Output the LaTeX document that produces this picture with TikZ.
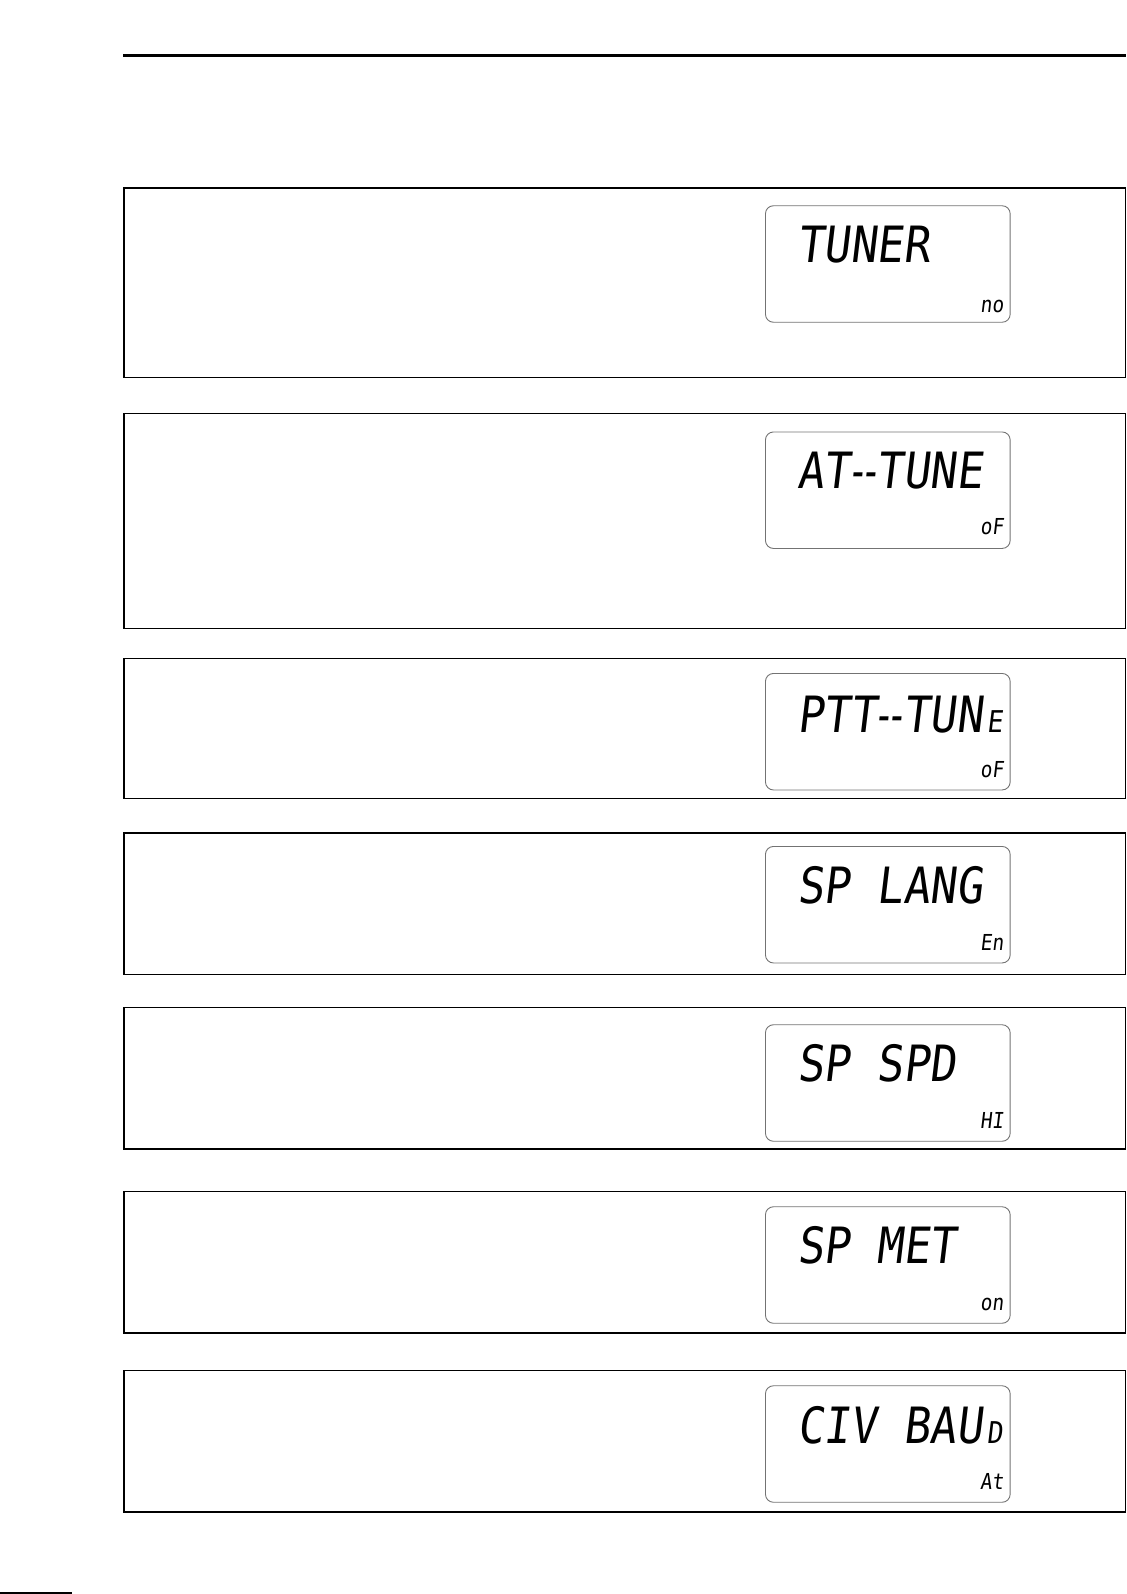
\documentclass[tikz,border=0pt]{standalone}
\usepackage{fontspec}
\newfontfamily\lcdfont{DejaVu Sans Mono}[FakeSlant=0.12,FakeStretch=0.88]
\usetikzlibrary{calc}
\tikzset{
  panel/.style={draw=black, line width=1.3pt, rectangle, inner sep=0pt, minimum width=1001.4pt, anchor=north west},
  lcd/.style={draw=black!55, line width=0.9pt, rounded corners=8pt, inner sep=0pt,
    minimum width=244.7pt, minimum height=116.5pt, anchor=north west},
  lcdmain/.style={font=\lcdfont\fontsize{50}{50}\selectfont, inner sep=0pt, anchor=base west, text depth=0pt},
  lcdsmall/.style={font=\lcdfont\fontsize{22}{22}\selectfont, inner sep=0pt, anchor=base east, text depth=0pt},
  rulebar/.style={fill=black, draw=none},
}
\newcommand\lcdsub[1]{\kern4pt{\fontsize{30}{30}\selectfont #1}}
\newcommand\lcddd{\makebox[13.2pt][c]{\scalebox{0.8}[1]{-}}\makebox[13.2pt][c]{\scalebox{0.8}[1]{-}}}
\begin{document}
\begin{tikzpicture}[x=1pt,y=-1pt]
\useasboundingbox (0,0) rectangle (1126,1594);
% header rule and footer bar
\fill[rulebar] (123,54.5) rectangle (1126,57.5);
\fill[rulebar] (0,1592) rectangle (72,1594);
% panels
\node[panel, minimum height=189.4pt] (p1) at (123.3,187.3) {};
\node[panel, minimum height=215.4pt] (p2) at (123.3,412.6) {};
\node[panel, minimum height=140.3pt] (p3) at (123.3,657.5) {};
\node[panel, minimum height=141.3pt] (p4) at (123.3,832.3) {};
\node[panel, minimum height=141.3pt] (p5) at (123.3,1007.1) {};
\node[panel, minimum height=141.3pt] (p6) at (123.3,1191.0) {};
\node[panel, minimum height=141.3pt] (p7) at (123.3,1369.9) {};
% LCD windows
\node[lcd] (l1) at (765,205.3) {};
\node[lcd] (l2) at (765,431.5) {};
\node[lcd] (l3) at (765,673.0) {};
\node[lcd] (l4) at (765,846.0) {};
\node[lcd] (l5) at (765,1024.3) {};
\node[lcd] (l6) at (765,1206.3) {};
\node[lcd] (l7) at (765,1385.3) {};
% main LCD text
\node[lcdmain] (m1) at ($(l1.north west)+(32,57)$) {TUNER};
\node[lcdmain] (m2) at ($(l2.north west)+(32,57)$) {AT\lcddd TUNE};
\node[lcdmain] (m3) at ($(l3.north west)+(32,59)$) {PTT\lcddd TUN\lcdsub{E}};
\node[lcdmain] (m4) at ($(l4.north west)+(32,57)$) {SP LANG};
\node[lcdmain] (m5) at ($(l5.north west)+(32,57)$) {SP SPD};
\node[lcdmain] (m6) at ($(l6.north west)+(32,57)$) {SP MET};
\node[lcdmain] (m7) at ($(l7.north west)+(32,58)$) {CIV BAU\lcdsub{D}};
% small LCD text
\node[lcdsmall] (s1) at ($(l1.south east)+(-7,-10)$) {no};
\node[lcdsmall] (s2) at ($(l2.south east)+(-7,-14)$) {oF};
\node[lcdsmall] (s3) at ($(l3.south east)+(-7,-13)$) {oF};
\node[lcdsmall] (s4) at ($(l4.south east)+(-7,-13)$) {En};
\node[lcdsmall] (s5) at ($(l5.south east)+(-7,-13)$) {HI};
\node[lcdsmall] (s6) at ($(l6.south east)+(-7,-13)$) {on};
\node[lcdsmall] (s7) at ($(l7.south east)+(-7,-13)$) {At};
\end{tikzpicture}
\end{document}
